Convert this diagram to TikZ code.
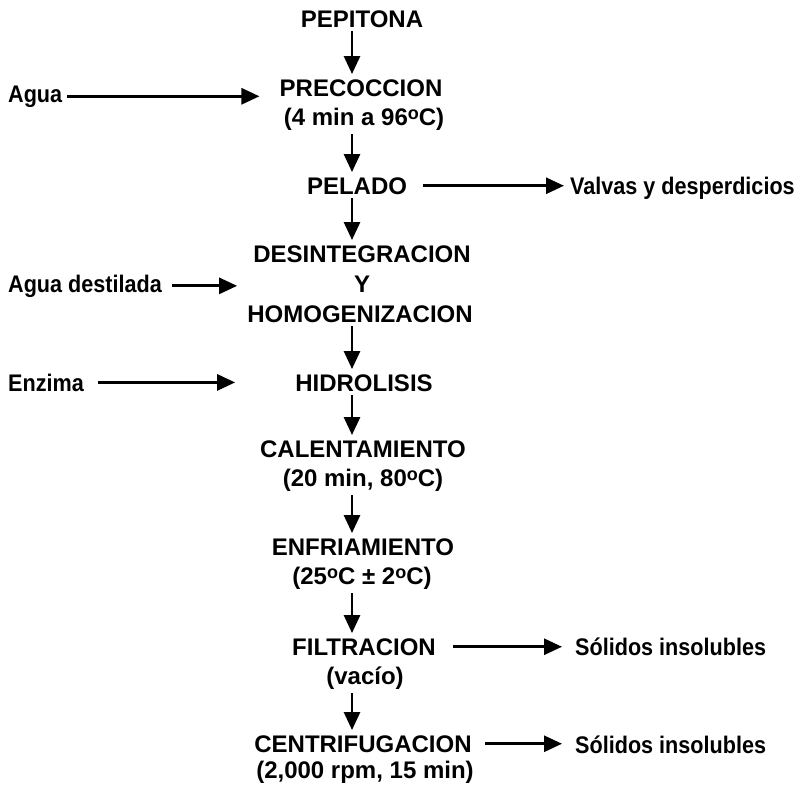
\documentclass[tikz,border=0pt]{standalone}
\usepackage{fontspec}
\setmainfont{Liberation Sans}
\newfontfamily\sidefont{Liberation Sans}[FakeStretch=0.9]
\usetikzlibrary{arrows.meta}

% raised small "o" used as degree mark
\newcommand{\grado}{\raisebox{0.4ex}{\fontsize{18}{18}\selectfont o}}

\begin{document}
\begin{tikzpicture}[x=1pt,y=-1pt,
  stage/.style={font=\fontsize{24}{28}\selectfont\bfseries, inner sep=0pt, anchor=base},
  side/.style={font=\sidefont\fontsize{24}{28}\selectfont\bfseries, inner sep=0pt, anchor=base west},
  flow/.style={line width=2.8pt, -{Triangle[length=18pt,width=16pt]}},
  down/.style={flow, shorten <=4pt, shorten >=5pt},
]
\useasboundingbox (0,0) rectangle (805,785);
\coordinate (ax) at (352,0);

% main process column
\node[stage] (pep)   at (362,27)  {PEPITONA};
\node[stage] (prec)  at (361,96)  {PRECOCCION};
\node[stage] (prec2) at (364,125) {(4 min a 96\grado C)};
\node[stage] (pel)   at (357,194) {PELADO};
\node[stage] (des)   at (362,262) {DESINTEGRACION};
\node[stage] (yy)    at (362,292) {Y};
\node[stage] (hom)   at (360,322) {HOMOGENIZACION};
\node[stage] (hid)   at (364,391) {HIDROLISIS};
\node[stage] (cal)   at (363,457) {CALENTAMIENTO};
\node[stage] (cal2)  at (363,486) {(20 min, 80\grado C)};
\node[stage] (enf)   at (363,555) {ENFRIAMIENTO};
\node[stage] (enf2)  at (362,584) {(25\grado C ± 2\grado C)};
\node[stage] (fil)   at (364,655) {FILTRACION};
\node[stage] (fil2)  at (365,684) {(vacío)};
\node[stage] (cen)   at (363,752) {CENTRIFUGACION};
\node[stage] (cen2)  at (365,778) {(2,000 rpm, 15 min)};

% inputs on the left
\node[side] (agua)  at (8,102) {Agua};
\node[side] (aguad) at (8,292) {Agua destilada};
\node[side] (enz)   at (8,391) {Enzima};

% outputs on the right
\node[side] (valv) at (570,194) {Valvas y desperdicios};
\node[side] (sol1) at (575,655) {Sólidos insolubles};
\node[side] (sol2) at (575,753) {Sólidos insolubles};

% vertical flow
\draw[down] (pep.south -| ax)   -- (prec.north -| ax);
\draw[down] (prec2.south -| ax) -- (pel.north -| ax);
\draw[down] (pel.south -| ax)   -- (des.north -| ax);
\draw[down] (hom.south -| ax)   -- (hid.north -| ax);
\draw[down] (hid.south -| ax)   -- (cal.north -| ax);
\draw[down] (cal2.south -| ax)  -- (enf.north -| ax);
\draw[down] (enf2.south -| ax)  -- (fil.north -| ax);
\draw[down] (fil2.south -| ax)  -- (cen.north -| ax);

% inputs
\draw[flow, shorten <=5pt, shorten >=20pt] (agua.east) -- (agua.east -| prec.west);
\draw[flow, shorten <=10pt, shorten >=10pt] (aguad.east) -- (aguad.east -| hom.west);
\draw[flow, shorten <=14pt, shorten >=60pt] (enz.east) -- (enz.east -| hid.west);

% outputs
\draw[flow, shorten <=16pt, shorten >=6pt] (pel.east) -- (pel.east -| valv.west);
\draw[flow, shorten <=17pt, shorten >=13pt] (fil.east) -- (fil.east -| sol1.west);
\draw[flow, shorten <=13pt, shorten >=13pt] (cen.east) -- (cen.east -| sol2.west);
\end{tikzpicture}
\end{document}
